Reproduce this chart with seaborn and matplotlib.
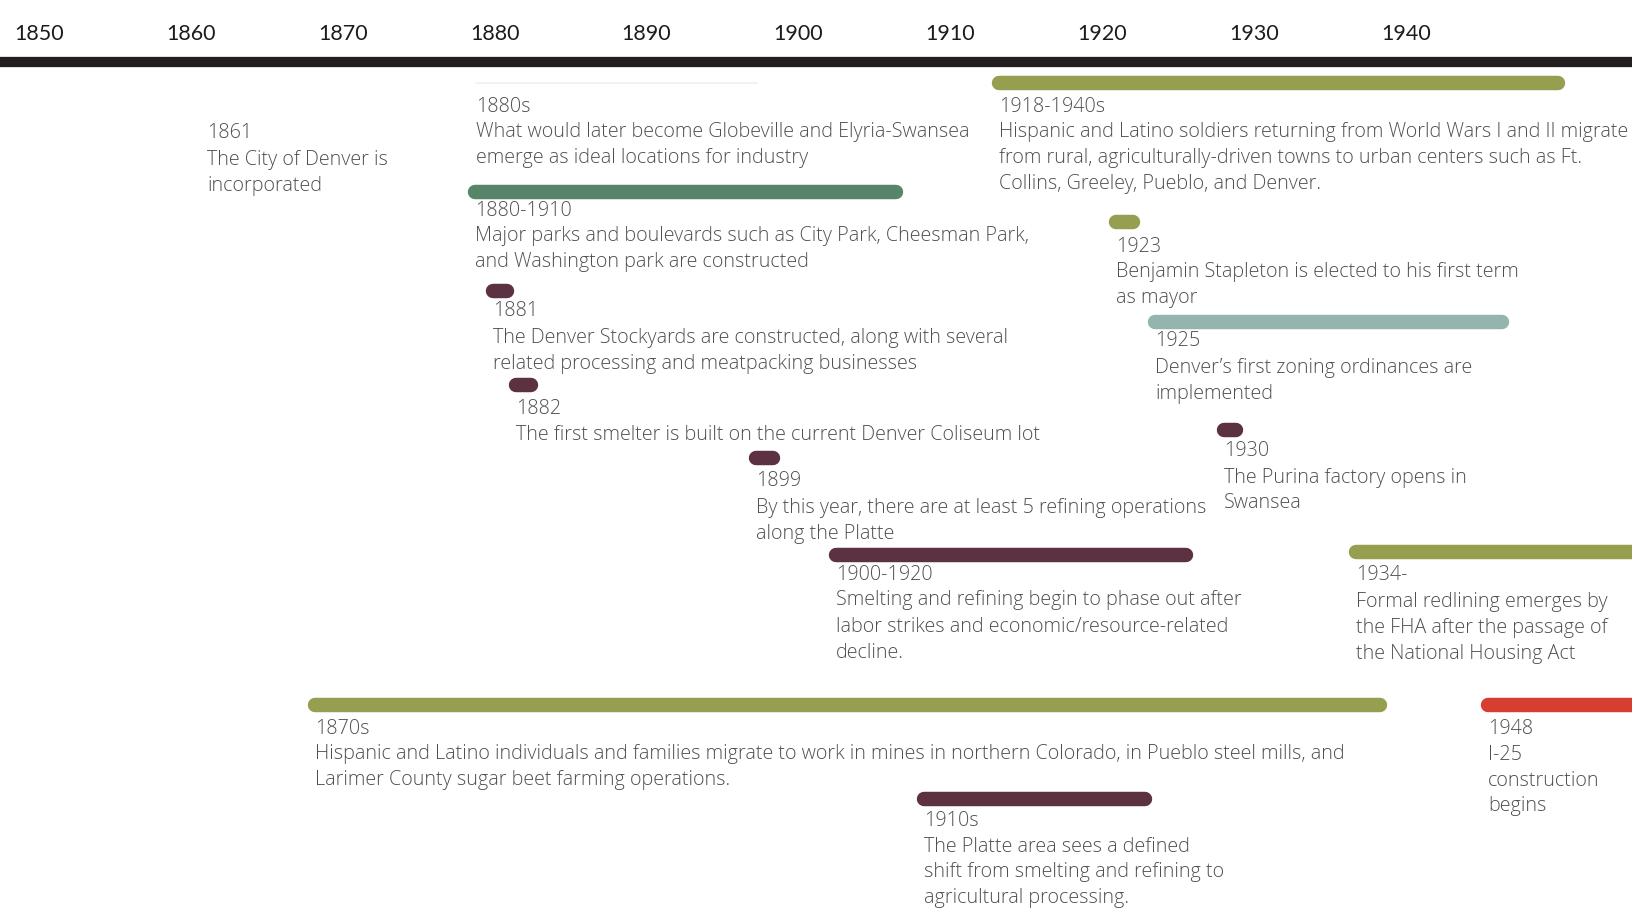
import pandas as pd
import seaborn as sns
import matplotlib.pyplot as plt

# timeline data
tick_years = [1850, 1860, 1870, 1880, 1890, 1900, 1910, 1920, 1930, 1940]

labels = ["1861", "1880s", "1918-1940s", "1880-1910", "1923", "1881", "1925",
          "1882", "1930", "1899", "1900-1920", "1934-", "1870s", "1948", "1910s"]
starts = [1863.0, 1880.7, 1915.1, 1880.6, 1922.8, 1881.8, 1925.4,
          1883.3, 1929.9, 1899.1, 1904.4, 1938.6, 1870.1, 1947.3, 1910.2]
ends = [None, 1899.2, 1951.9, 1908.3, 1923.9, 1882.7, 1948.2,
        1884.3, 1930.7, 1900.2, 1927.4, 1962.0, 1940.2, 1962.0, 1924.7]
themes = ["none", "neighborhood", "migration", "parks", "migration", "industry", "zoning",
          "industry", "industry", "industry", "industry", "migration", "migration", "highway", "industry"]
descriptions = [
    "The City of Denver is\nincorporated",
    "What would later become Globeville and Elyria-Swansea\nemerge as ideal locations for industry",
    "Hispanic and Latino soldiers returning from World Wars I and II migrate\n"
    "from rural, agriculturally-driven towns to urban centers such as Ft.\n"
    "Collins, Greeley, Pueblo, and Denver.",
    "Major parks and boulevards such as City Park, Cheesman Park,\nand Washington park are constructed",
    "Benjamin Stapleton is elected to his first term\nas mayor",
    "The Denver Stockyards are constructed, along with several\nrelated processing and meatpacking businesses",
    "Denver\u2019s first zoning ordinances are\nimplemented",
    "The first smelter is built on the current Denver Coliseum lot",
    "The Purina factory opens in\nSwansea",
    "By this year, there are at least 5 refining operations\nalong the Platte",
    "Smelting and refining begin to phase out after\nlabor strikes and economic/resource-related\ndecline.",
    "Formal redlining emerges by\nthe FHA after the passage of\nthe National Housing Act",
    "Hispanic and Latino individuals and families migrate to work in mines in northern Colorado, "
    "in Pueblo steel mills, and\nLarimer County sugar beet farming operations.",
    "I-25\nconstruction\nbegins",
    "The Platte area sees a defined\nshift from smelting and refining to\nagricultural processing.",
]

palette = {"migration": "#969e50", "parks": "#56856a", "industry": "#5c3243",
           "zoning": "#94b5ad", "highway": "#d63e2f", "neighborhood": "#efefef"}

# layout: pixel rows of each bar and of each year label
bar_rows = [None, 83, 83, 191.5, 222, 291, 321.5, 385, 430, 458, 555, 552, 705, 705, 799]
text_rows = [133.5, 106.5, 106.5, 210.5, 246.5, 311.5, 341.5, 408.5, 451.5, 481.5, 574.5, 575.5, 728.5, 728.5, 820.5]
line_gap = 26

rows = []
for i, lab in enumerate(labels):
    if ends[i] is None:
        continue
    for yr in (starts[i], ends[i]):
        rows.append({"event": lab, "year": yr, "row": bar_rows[i], "theme": themes[i]})
bars = pd.DataFrame(rows)

sns.set_theme(style="white")
plt.rcParams["font.family"] = ["Lato", "DejaVu Sans"]

fig = plt.figure(figsize=(16.32, 9.10), dpi=100)
ax = fig.add_axes([0, 0, 1, 1])

thick = bars[bars["theme"] != "neighborhood"]
thin = bars[bars["theme"] == "neighborhood"]
sns.lineplot(data=thick, x="year", y="row", hue="theme", units="event", estimator=None,
             palette=palette, linewidth=10.4, solid_capstyle="round", legend=False, ax=ax)
sns.lineplot(data=thin, x="year", y="row", hue="theme", units="event", estimator=None,
             palette=palette, linewidth=1.2, legend=False, ax=ax)

# main axis band
ax.axhline(62, color="#231f20", linewidth=7.4)

for yr in tick_years:
    ax.text(yr + 0.27, 34, str(yr), ha="left", va="center", fontsize=15.5, color="#1c1c1c")

for i, lab in enumerate(labels):
    lines = [lab] + descriptions[i].split("\n")
    for k, line in enumerate(lines):
        ax.text(starts[i], text_rows[i] + k * line_gap, line, ha="left", va="center",
                fontsize=14.2, fontweight="light", color="#4f4f4f",
                family=["Open Sans", "DejaVu Sans"])

ax.set_xlim(1849.3417, 1956.78)
ax.set_ylim(910, 0)
ax.set_axis_off()

fig.savefig("out.png", dpi=100)
